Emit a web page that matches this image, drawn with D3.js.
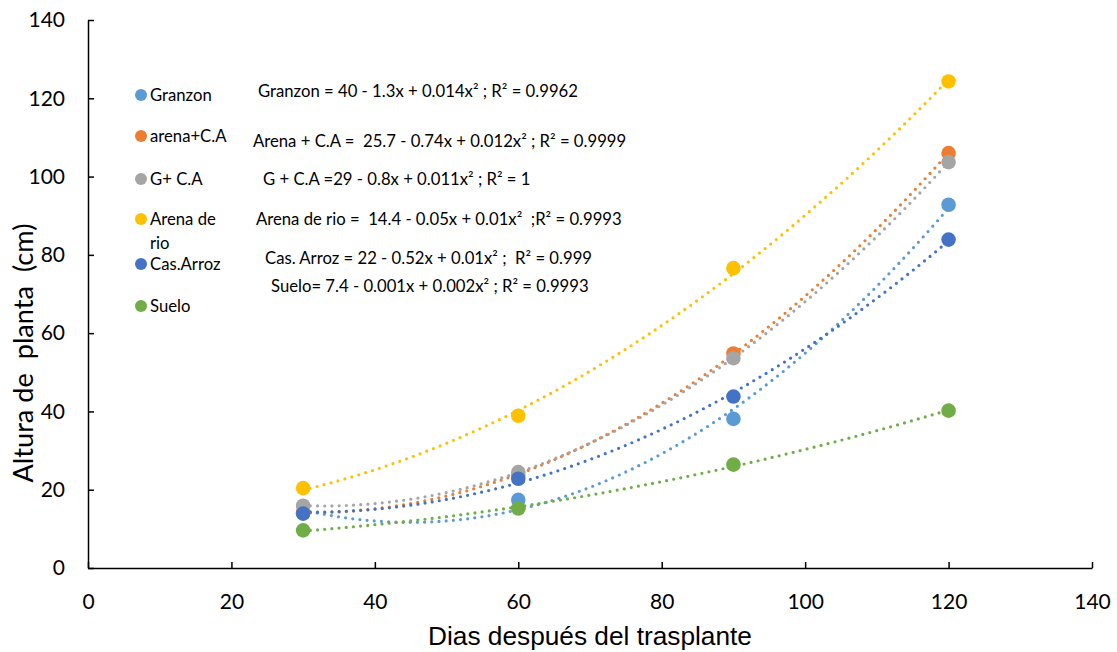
<!DOCTYPE html>
<html><head><meta charset="utf-8">
<script src="https://cdn.jsdelivr.net/npm/d3@7"></script>
<style>body{margin:0;background:#fff}svg{display:block}</style>
</head><body>
<svg id="c" width="1117" height="652"></svg>
<script>
const days = [30, 60, 90, 120];
const seriesNames = ["Granzon", "arena+C.A", "G+ C.A", "Arena de rio", "Cas.Arroz", "Suelo"];
const granzon = [14.0, 17.4, 38.1, 92.8];
const arenaCA = [14.2, 23.8, 54.8, 106.0];
const gCA = [15.9, 24.5, 53.6, 103.7];
const arenaRio = [20.4, 38.9, 76.6, 124.3];
const casArroz = [13.9, 22.8, 43.8, 83.9];
const suelo = [9.6, 15.2, 26.4, 40.2];
const colors = ["#5B9BD5", "#ED7D31", "#A5A5A5", "#FFC000", "#4472C4", "#70AD47"];
const equations = [
  "Granzon = 40 - 1.3x + 0.014x² ; R² = 0.9962",
  "Arena + C.A =  25.7 - 0.74x + 0.012x² ; R² = 0.9999",
  "G + C.A =29 - 0.8x + 0.011x² ; R² = 1",
  "Arena de rio =  14.4 - 0.05x + 0.01x²  ;R² = 0.9993",
  "Cas. Arroz = 22 - 0.52x + 0.01x² ;  R² = 0.999",
  "Suelo= 7.4 - 0.001x + 0.002x² ; R² = 0.9993"
];
const xTicks = [0, 20, 40, 60, 80, 100, 120, 140];
const yTicks = [0, 20, 40, 60, 80, 100, 120, 140];
const allValues = [granzon, arenaCA, gCA, arenaRio, casArroz, suelo];

const svg = d3.select("#c");
const x = d3.scaleLinear().domain([0, 140]).range([88, 1092]);
const y = d3.scaleLinear().domain([0, 140]).range([568, 20]);
const font = "Lato, 'Open Sans', sans-serif";

// axes
const xAxis = d3.axisBottom(x).tickValues(xTicks).tickSizeInner(-6).tickSizeOuter(0).tickPadding(26);
const gx = svg.append("g").attr("transform", "translate(0,568)").call(xAxis);
const yAxis = d3.axisLeft(y).tickValues(yTicks).tickSizeInner(-6).tickSizeOuter(0).tickPadding(23);
const gy = svg.append("g").attr("transform", "translate(88,0)").call(yAxis);
[gx, gy].forEach(g => {
  g.selectAll("path.domain").attr("stroke", "#000").attr("stroke-width", 1.5);
  g.selectAll(".tick line").attr("stroke", "#000").attr("stroke-width", 1.5);
  g.selectAll(".tick text").attr("font-family", font).attr("font-size", 21).attr("fill", "#000");
});

// least-squares quadratic fit (Excel-style polynomial trendline)
function quadFit(xs, ys) {
  let S = [0,0,0,0,0], T = [0,0,0];
  xs.forEach((xi, i) => {
    for (let k = 0; k < 5; k++) S[k] += Math.pow(xi, k);
    for (let k = 0; k < 3; k++) T[k] += ys[i] * Math.pow(xi, k);
  });
  const A = [[S[0],S[1],S[2],T[0]],[S[1],S[2],S[3],T[1]],[S[2],S[3],S[4],T[2]]];
  for (let i = 0; i < 3; i++) {
    for (let j = i + 1; j < 3; j++) {
      const f = A[j][i] / A[i][i];
      for (let k = i; k < 4; k++) A[j][k] -= f * A[i][k];
    }
  }
  const c = [0,0,0];
  for (let i = 2; i >= 0; i--) {
    let s = A[i][3];
    for (let k = i + 1; k < 3; k++) s -= A[i][k] * c[k];
    c[i] = s / A[i][i];
  }
  return c;
}

const line = d3.line().x(d => x(d[0])).y(d => y(d[1]));
const xsFine = d3.range(30, 120.01, 0.5);

allValues.forEach((vals, i) => {
  const c = quadFit(days, vals);
  const pts = xsFine.map(t => [t, c[0] + c[1]*t + c[2]*t*t]);
  svg.append("path").datum(pts).attr("d", line)
    .attr("fill", "none").attr("stroke", colors[i]).attr("stroke-width", 3.2)
    .attr("stroke-linecap", "round").attr("stroke-dasharray", "0 7.2");
});
allValues.forEach((vals, i) => {
  svg.append("g").selectAll("circle").data(days.map((d, j) => [d, vals[j]])).join("circle")
    .attr("cx", d => x(d[0])).attr("cy", d => y(d[1])).attr("r", 7.3).attr("fill", colors[i]);
});

// legend
const legY = [95, 136, 179, 219, 264, 306];
const fs = 16.7;
seriesNames.forEach((n, i) => {
  svg.append("circle").attr("cx", 141).attr("cy", legY[i]).attr("r", 6).attr("fill", colors[i]);
  const t = svg.append("text").attr("x", 150).attr("y", legY[i] + 6).attr("font-family", font)
    .attr("font-size", fs).attr("fill", "#000");
  if (n === "Arena de rio") {
    t.text("Arena de");
    svg.append("text").attr("x", 150).attr("y", legY[i] + 30).attr("font-family", font)
      .attr("font-size", fs).attr("fill", "#000").text("rio");
  } else t.text(n);
});

// equations
const eqX = [258, 253, 263, 256, 265, 271];
const eqY = [91, 141, 179, 219, 258, 286];
equations.forEach((e, i) => {
  svg.append("text").attr("x", eqX[i]).attr("y", eqY[i] + 6).attr("font-family", font)
    .attr("font-size", fs).attr("fill", "#000").style("white-space", "pre").attr("xml:space", "preserve").text(e);
});

// axis titles (sized to match the reference's text extents)
function fitText(sel, target) {
  const w = sel.node().getComputedTextLength();
  const f = parseFloat(sel.attr("font-size"));
  sel.attr("font-size", f * target / w);
}
const xt = svg.append("text").attr("x", 590).attr("y", 645).attr("text-anchor", "middle")
  .attr("font-family", "Liberation Sans, Arial, sans-serif").attr("font-size", 26).attr("fill", "#000")
  .text("Dias después del trasplante");
fitText(xt, 324);
const yt = svg.append("text").attr("transform", "translate(33,353) rotate(-90)").attr("text-anchor", "middle")
  .attr("font-family", font).attr("font-size", 26).attr("fill", "#000")
  .style("white-space", "pre").attr("xml:space", "preserve")
  .text("Altura de  planta  (cm)");
fitText(yt, 259);
</script>
</body></html>
